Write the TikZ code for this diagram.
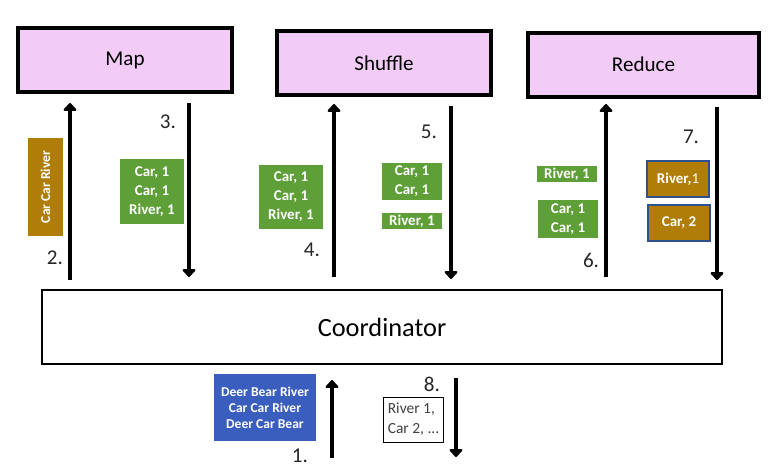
\documentclass[tikz,border=0pt]{standalone}
\usepackage{fontspec}
\setmainfont{Carlito}
\usetikzlibrary{
  arrows.meta,   % arrow tips
  positioning    % relative placement
}
\definecolor{stagepink}{RGB}{242,204,246}
\definecolor{pairgreen}{RGB}{94,159,56}
\definecolor{wordbrown}{RGB}{176,126,8}
\definecolor{inputblue}{RGB}{58,94,190}
\definecolor{edgeblue}{RGB}{47,82,143}
\tikzset{
  stage/.style={
    draw=black,
    line width=2.3pt,
    fill=stagepink,
    inner sep=0pt,
    font=\fontsize{12}{14}\selectfont
  },
  hub/.style={
    draw=black,
    line width=1.7pt,
    fill=white,
    inner sep=0pt,
    font=\fontsize{15}{18}\selectfont
  },
  pairs/.style={
    fill=pairgreen,
    text=white,
    align=center,
    inner sep=0pt,
    font=\bfseries\fontsize{8.5}{10.8}\selectfont
  },
  counts/.style={
    fill=wordbrown,
    text=white,
    align=center,
    inner sep=0pt,
    font=\fontsize{8.5}{10.8}\selectfont
  },
  flow/.style={
    -{Triangle[width=8.5pt,length=4.8pt,round]},
    line width=2.3pt
  },
  stepnum/.style={
    text=black!85,
    inner sep=0pt,
    font=\fontsize{12}{14}\selectfont
  }
}

\begin{document}
\begin{tikzpicture}[x=0.02cm, y=-0.02cm]
  \useasboundingbox (0,0) rectangle (768,467);

  % ==== 1. stages on top ====
  \node[stage, minimum width=214*0.02cm, minimum height=64*0.02cm] (map) at (125,60) {\raisebox{2pt}{Map}};
  \node[stage, minimum width=214*0.02cm, minimum height=64*0.02cm] (shuffle) at (384,63) {Shuffle};
  \node[stage, minimum width=231*0.02cm, minimum height=64*0.02cm] (reduce) at (643.5,65) {\raisebox{1pt}{Reduce}};

  % ==== 2. coordinator ====
  \node[hub, minimum width=680*0.02cm, minimum height=74*0.02cm] (coord) at (382,327) {Coordinator};

  % ==== 3. arrow ends ====
  \coordinate (s2b) at (70,280);  \coordinate (s2t) at (70,103);
  \coordinate (s3t) at (189,103); \coordinate (s3b) at (189,277);
  \coordinate (s4b) at (334,277); \coordinate (s4t) at (334,104);
  \coordinate (s5t) at (451,106); \coordinate (s5b) at (451,279);
  \coordinate (s6b) at (606,277); \coordinate (s6t) at (606,104);
  \coordinate (s7t) at (717,107); \coordinate (s7b) at (717,280);
  \coordinate (s1b) at (332,458); \coordinate (s1t) at (332,380);
  \coordinate (s8t) at (456,378); \coordinate (s8b) at (456,457);

  \draw[flow] (s2b) -- (s2t);
  \draw[flow] (s3t) -- (s3b);
  \draw[flow] (s4b) -- (s4t);
  \draw[flow] (s5t) -- (s5b);
  \draw[flow] (s6b) -- (s6t);
  \draw[flow] (s7t) -- (s7b);
  \draw[flow] (s1b) -- (s1t);
  \draw[flow] (s8t) -- (s8b);

  % step numbers
  \node[stepnum] (n1) at (300,456) {1.};
  \node[stepnum] (n2) at (55,258) {2.};
  \node[stepnum] (n3) at (168,122) {3.};
  \node[stepnum] (n4) at (312,250) {4.};
  \node[stepnum] (n5) at (429,132) {5.};
  \node[stepnum] (n6) at (591,260) {6.};
  \node[stepnum] (n7) at (691,137) {7.};
  \node[stepnum] (n8) at (432,384) {8.};

  % ==== 4. data between the stages ====
  \node[counts, font=\bfseries\fontsize{7.7}{9}\selectfont, rotate=90,
        minimum width=98*0.02cm, minimum height=35*0.02cm] (split) at (45.5,187) {Car Car River};
  \node[pairs, minimum width=64*0.02cm, minimum height=65*0.02cm] (mapout) at (152,191.5) {Car, 1\\Car, 1\\River, 1};
  \node[pairs, minimum width=64*0.02cm, minimum height=64*0.02cm] (shufin) at (291,197) {Car, 1\\Car, 1\\River, 1};
  \node[pairs, minimum width=60*0.02cm, minimum height=37*0.02cm] (carpair) at (412,181.5) {Car, 1\\Car, 1};
  \node[pairs, minimum width=60*0.02cm, minimum height=16*0.02cm] (riverpair) at (412,221) {River, 1};
  \node[pairs, minimum width=60*0.02cm, minimum height=16*0.02cm] (redriver) at (567,174) {River, 1};
  \node[pairs, minimum width=60*0.02cm, minimum height=38*0.02cm] (redcar) at (568,219) {Car, 1\\Car, 1};
  \node[counts, draw=edgeblue, line width=0.6pt, minimum width=62*0.02cm, minimum height=36*0.02cm] (riversum) at (678,179) {\textbf{River,}1};
  \node[counts, draw=edgeblue, line width=0.6pt, minimum width=62*0.02cm, minimum height=36*0.02cm] (carsum) at (679,223) {\textbf{Car, 2}};

  % ==== 5. input and output ====
  \node[pairs, fill=inputblue, font=\bfseries\fontsize{7.7}{9}\selectfont,
        minimum width=102*0.02cm, minimum height=67*0.02cm] (input) at (265,407.5) {Deer Bear River\\Car Car River\\Deer Car Bear};
  \node[draw=black, line width=0.5pt, fill=white, text=black!75, align=left,
        inner xsep=2.5pt, inner ysep=0pt, anchor=west,
        font=\fontsize{8.8}{11.5}\selectfont,
        minimum height=45*0.02cm] (output) at (383,419.5) {River 1,\\Car 2, ...};

\end{tikzpicture}
\end{document}
